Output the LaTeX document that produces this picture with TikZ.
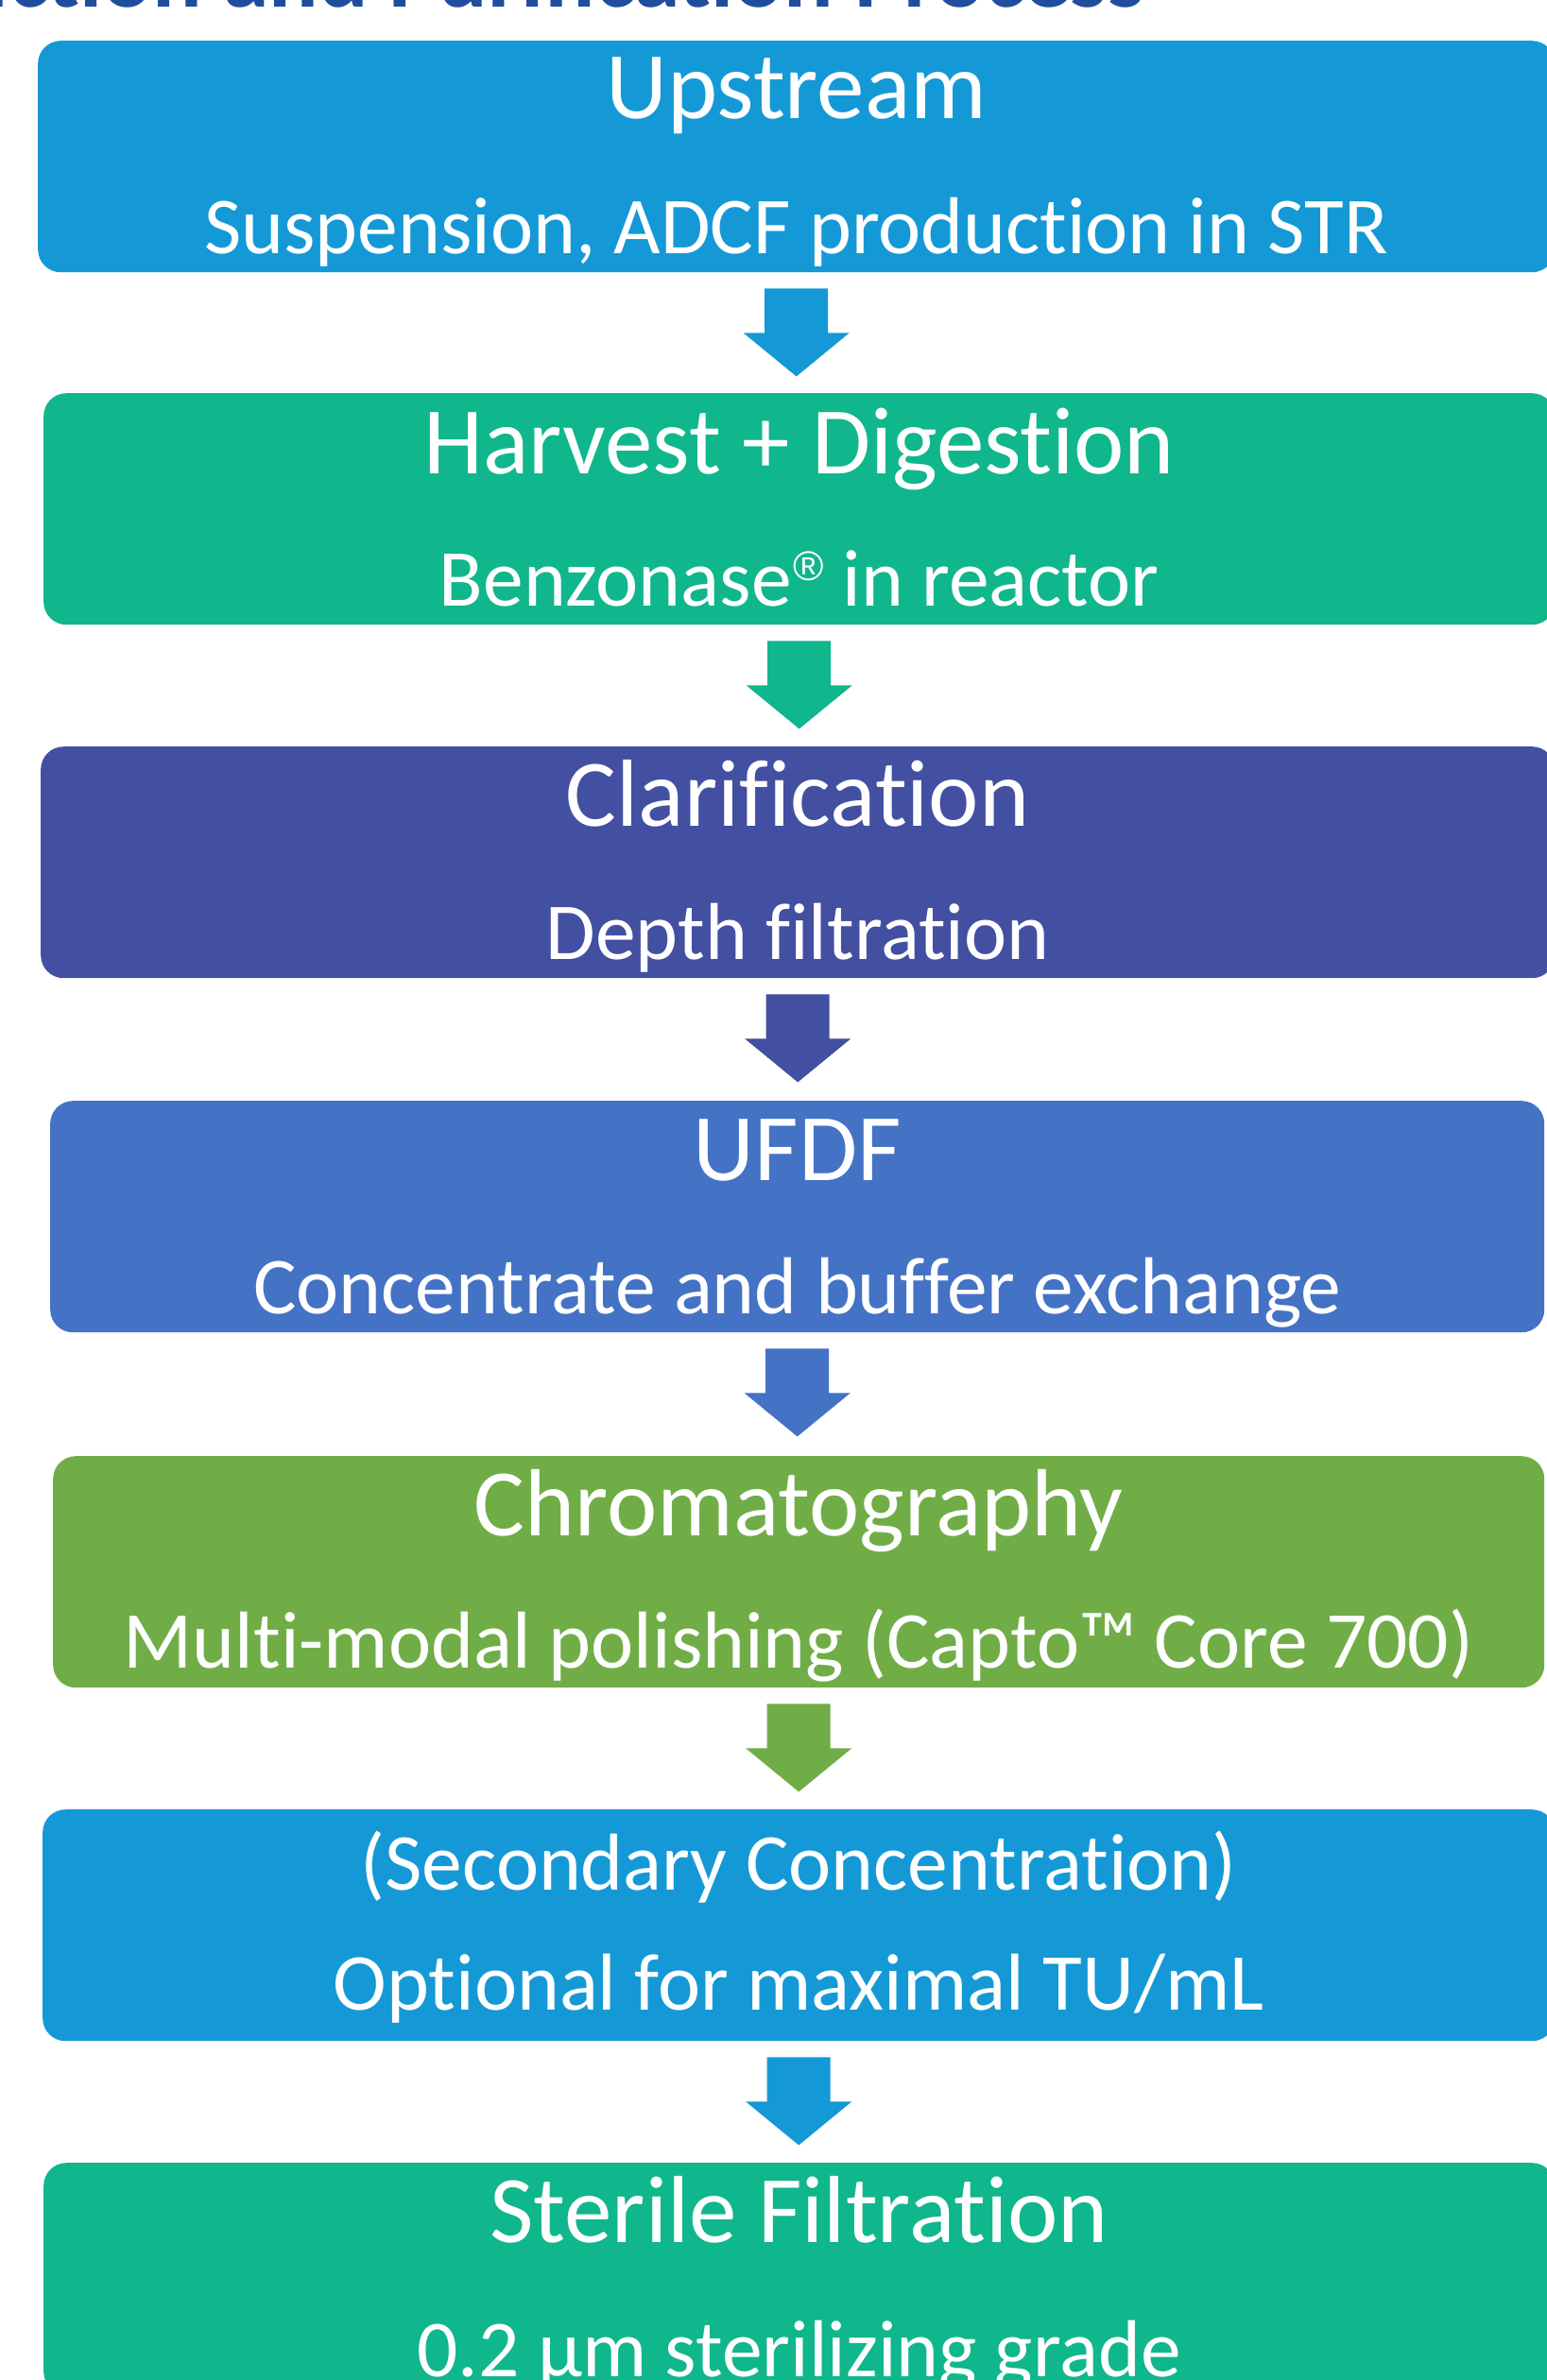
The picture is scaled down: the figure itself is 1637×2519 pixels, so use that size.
\documentclass[tikz,border=0pt]{standalone}
\usepackage{fontspec}
\setmainfont{Carlito}[Ligatures={NoCommon,NoContextual}]
\newfontfamily\regfont{Liberation Sans}
\usetikzlibrary{calc}
\definecolor{cblue}{HTML}{1499D6}
\definecolor{cgreen}{HTML}{10B68C}
\definecolor{cindigo}{HTML}{434FA1}
\definecolor{cmid}{HTML}{4472C4}
\definecolor{cleaf}{HTML}{70AD47}
\definecolor{ctitle}{HTML}{1F4E9F}
\newcommand\blockarrowdown[2]{%
  \fill[#2] ($(#1.south)+(-33.5,17)$) -- ($(#1.south)+(33.5,17)$)
    -- ($(#1.south)+(33.5,64)$) -- ($(#1.south)+(56,64)$)
    -- ($(#1.south)+(0,110)$) -- ($(#1.south)+(-56,64)$)
    -- ($(#1.south)+(-33.5,64)$) -- cycle;}
\newcommand\regmark{\kern2pt\raisebox{27pt}{\regfont\fontsize{44}{44}\selectfont ®}}
\begin{document}
\begin{tikzpicture}[x=1pt,y=-1pt,
 stagebox/.style={rectangle, rounded corners=24pt, inner sep=0pt, minimum height=245pt, anchor=north west, draw=none},
 headtext/.style={text=white, font=\fontsize{101}{112}\selectfont, anchor=base, inner sep=0pt},
 subtext/.style={text=white, font=\fontsize{85.5}{100}\selectfont, anchor=base, inner sep=0pt}]
\useasboundingbox (0,0) rectangle (1637,2519);
\clip (0,0) rectangle (1637,2519);

\node[font=\bfseries\fontsize{98}{110}\selectfont, text=ctitle, anchor=base east, inner sep=0pt] (title) at (1211,7) {Production and Purification Process};

\node[stagebox, fill=cblue,   minimum width=1605pt] (b1) at (40,43) {};
\node[stagebox, fill=cgreen,  minimum width=1599pt] (b2) at (46,416) {};
\node[stagebox, fill=cindigo, minimum width=1602pt] (b3) at (43,790) {};
\node[stagebox, fill=cmid,    minimum width=1581pt] (b4) at (53,1165) {};
\node[stagebox, fill=cleaf,   minimum width=1578pt] (b5) at (56,1541) {};
\node[stagebox, fill=cblue,   minimum width=1600pt] (b6) at (45,1915) {};
\node[stagebox, fill=cgreen,  minimum width=1599pt] (b7) at (46,2289) {};

\node[headtext] (h1) at ($(b1.north)+(0,82)$) {Upstream};
\node[subtext]  (s1) at ($(b1.north)+(0,225)$) {Suspension, ADCF production in STR};
\node[headtext] (h2) at ($(b2.north)+(0,85)$) {Harvest + Digestion};
\node[subtext]  (s2) at ($(b2.north)+(0,225)$) {Benzonase\regmark{} in reactor};
\node[headtext] (h3) at ($(b3.north)+(0,84)$) {Clarification};
\node[subtext]  (s3) at ($(b3.north)+(0,225)$) {Depth filtration};
\node[headtext] (h4) at ($(b4.north)+(0,84)$) {UFDF};
\node[subtext]  (s4) at ($(b4.north)+(0,225)$) {Concentrate and buffer exchange};
\node[headtext] (h5) at ($(b5.north)+(0,84)$) {Chromatography};
\node[subtext]  (s5) at ($(b5.north)+(0,224)$) {Multi-modal polishing (Capto™ Core 700)};
\node[subtext]  (h6) at ($(b6.north)+(0,85)$) {(Secondary Concentration)};
\node[subtext]  (s6) at ($(b6.north)+(0,212)$) {Optional for maximal TU/mL};
\node[headtext] (h7) at ($(b7.north)+(0,84)$) {Sterile Filtration};
\node[subtext]  (s7) at ($(b7.north)+(0,226)$) {0.2 µm sterilizing grade};

\blockarrowdown{b1}{cblue}
\blockarrowdown{b2}{cgreen}
\blockarrowdown{b3}{cindigo}
\blockarrowdown{b4}{cmid}
\blockarrowdown{b5}{cleaf}
\blockarrowdown{b6}{cblue}
\end{tikzpicture}
\end{document}
